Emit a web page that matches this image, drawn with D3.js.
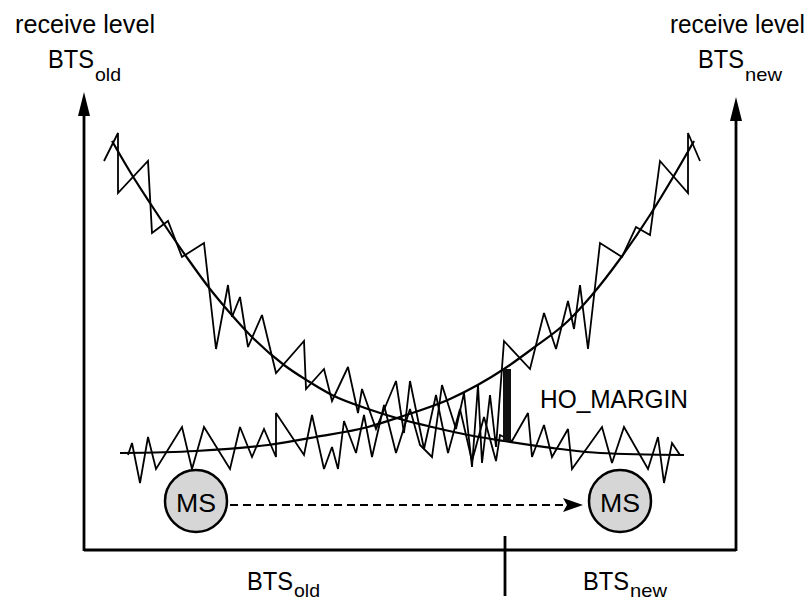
<!DOCTYPE html>
<html><head><meta charset="utf-8">
<script src="https://cdn.jsdelivr.net/npm/d3@7"></script>
<style>
html,body{margin:0;padding:0;background:#fff;}
svg{display:block;}
text{font-family:"Liberation Sans",Arial,sans-serif;fill:#000;}
</style>
</head><body>
<svg id="chart" width="808" height="600"></svg>
<script>
// ---- data (distance along route, receive level) ----
const xDomain = [0, 163];
const yDomain = [0, 114];

// smoothed mean receive level of the old BTS
const oldMean = [[7,102],[12,93.5],[16.5,86.5],[21.5,79],[26,72.5],[31.5,65],[36.5,59],[41.5,53.5],[50,46],[56,42],[62,38.5],[71,35],[79,32.5],[87,30.5],[96,28.5],[105,27],[119,25],[129,24],[150,23.5]];
// smoothed mean receive level of the new BTS
const newMean = [[9,24],[28,24.5],[46,26],[58,28],[71,30.5],[79,33],[91.5,37.5],[105,45],[112,50],[121,57],[127,63.5],[134,72.5],[141.5,83.5],[147,92.5],[152.5,102]];

// measured (fluctuating) receive level, old BTS
const oldMeasured = [[5,97],[8.5,104],[8.5,89],[16,97],[17,79],[21,82],[24.5,73],[30,76.5],[33,50],[36,66],[37,58],[39,63],[41,50.5],[44.5,58.5],[48,44],[55,52],[55.5,40],[60,45],[62,37],[66,45.5],[68.5,34],[69.5,40],[73,30],[78,42],[80,29],[81.5,42],[85,25],[88,38.5],[91,24],[94,35],[97,22],[100,33],[103,22],[104,28.5],[107,27],[111,34],[112,23],[115,31],[117,23],[121,30],[122,20],[129.5,30.5],[132,21.5],[135,30.5],[141,20],[143.5,28],[145,16.5],[147,26.5],[149,23.5]];
// measured (fluctuating) receive level, new BTS
const newMeasured = [[11,23.5],[12,26.5],[14,16.5],[16,28],[18,20],[24.5,30.5],[27,20],[30,30.5],[36.5,20],[39,30.5],[42,23],[45,30],[48,23],[48,34],[55,23.5],[57,33.5],[60,20],[62,25.5],[63.5,20],[65,32],[68,24],[70,33.5],[72,23],[75,36],[78,24],[81.5,35],[84,26],[87,23],[89.5,41],[93,30],[95,39],[97,20.5],[98.5,41],[99.5,21.5],[101.5,38.5],[103,25.5],[105,52],[111.5,45],[115,59],[118,50],[121,62],[122.5,55],[124,66],[126,50],[129,76.5],[134.5,73],[138,80.5],[141.5,78.5],[144,97],[151,89],[151,104],[154,97]];

// handover point and margin
const hoPosition = 105;
const hoMargin = [27, 45];   // [old level, new level] at the handover point
const hoLabel = "HO_MARGIN";

// mobile station positions (start and end of movement)
const msPositions = [28, 134];
const msLevel = 12;
const msLabel = "MS";

// axis labels
const axisTitleMain = "receive level";
const btsLabels = [{main:"BTS", sub:"old"}, {main:"BTS", sub:"new"}];

// ---- drawing ----
const svg = d3.select("#chart");
const xs = d3.scaleLinear().domain(xDomain).range([84, 736]);
const ys = d3.scaleLinear().domain(yDomain).range([549, 93]);

const jagLine = d3.line().x(d => xs(d[0])).y(d => ys(d[1]));
const smoothLine = d3.line().x(d => xs(d[0])).y(d => ys(d[1])).curve(d3.curveMonotoneX);

const g = svg.append("g");

// measured lines
[oldMeasured, newMeasured].forEach(s => {
  g.append("path").attr("d", jagLine(s)).attr("fill","none")
   .attr("stroke","#000").attr("stroke-width",1.8).attr("stroke-linejoin","miter").attr("stroke-miterlimit",3);
});
// mean lines
[oldMean, newMean].forEach(s => {
  g.append("path").attr("d", smoothLine(s)).attr("fill","none")
   .attr("stroke","#000").attr("stroke-width",2.2);
});

// HO margin bar
g.append("rect")
  .attr("x", xs(hoPosition) - 1)
  .attr("y", ys(hoMargin[1]))
  .attr("width", 8)
  .attr("height", ys(hoMargin[0]) - ys(hoMargin[1]))
  .attr("fill", "#111");

// HO label
g.append("text").attr("x", 540).attr("y", 408).attr("font-size", 25)
  .attr("textLength", 148).attr("lengthAdjust","spacingAndGlyphs").text(hoLabel);

// MS circles
const r = 31;
msPositions.forEach(p => {
  g.append("circle").attr("cx", xs(p)).attr("cy", ys(msLevel)).attr("r", r)
    .attr("fill", "#d6d6d6").attr("stroke", "#000").attr("stroke-width", 2.5);
  g.append("text").attr("x", xs(p)).attr("y", ys(msLevel) + 11)
    .attr("text-anchor","middle").attr("font-size", 26)
    .attr("textLength", 40).attr("lengthAdjust","spacingAndGlyphs").text(msLabel);
});

// dashed movement arrow
const ax0 = xs(msPositions[0]) + r + 3;
const ax1 = xs(msPositions[1]) - r - 6;
const ay = ys(msLevel) + 4;
g.append("line").attr("x1", ax0).attr("x2", ax1 - 14).attr("y1", ay).attr("y2", ay)
  .attr("stroke","#000").attr("stroke-width",2).attr("stroke-dasharray","8,5");
g.append("path")
  .attr("d", `M${ax1},${ay} L${ax1-20},${ay-7} L${ax1-16},${ay} L${ax1-20},${ay+7} Z`)
  .attr("fill","#000");

// axes
const x0 = xs(xDomain[0]), x1 = xs(xDomain[1]), yb = ys(0);
g.append("line").attr("x1", x0).attr("x2", x1).attr("y1", yb + 1).attr("y2", yb + 1)
  .attr("stroke","#000").attr("stroke-width",3);
[[x0, ys(yDomain[1]) - 1], [x1, ys(yDomain[1]) + 4]].forEach(([ax, tip]) => {
  g.append("line").attr("x1", ax).attr("x2", ax).attr("y1", yb + 2).attr("y2", tip + 10)
    .attr("stroke","#000").attr("stroke-width",2.8);
  g.append("path").attr("d", `M${ax},${tip} L${ax-6},${tip+24} L${ax+6},${tip+24} Z`).attr("fill","#000");
});
// handover tick on distance axis
g.append("line").attr("x1", xs(hoPosition)+1).attr("x2", xs(hoPosition)+1)
  .attr("y1", yb - 13).attr("y2", yb + 47).attr("stroke","#000").attr("stroke-width",2.8);

// labels
function lab(x, y, main, sub, mainLen, subLen, subDy) {
  g.append("text").attr("x", x).attr("y", y).attr("font-size", 25)
    .attr("textLength", mainLen).attr("lengthAdjust","spacingAndGlyphs").text(main);
  if (sub) g.append("text").attr("x", x + mainLen + 1).attr("y", y + subDy).attr("font-size", 19)
    .attr("textLength", subLen).attr("lengthAdjust","spacingAndGlyphs").text(sub);
}
// top-left
lab(15, 33, axisTitleMain, null, 140);
lab(48, 68, btsLabels[0].main, btsLabels[0].sub, 46, 26, 13);
// top-right
lab(670, 33, axisTitleMain, null, 135);
lab(698, 68, btsLabels[1].main, btsLabels[1].sub, 46, 37, 13);
// bottom
lab(247, 590, btsLabels[0].main, btsLabels[0].sub, 46, 26, 7);
lab(583, 590, btsLabels[1].main, btsLabels[1].sub, 46, 37, 7);
</script>
</body></html>
